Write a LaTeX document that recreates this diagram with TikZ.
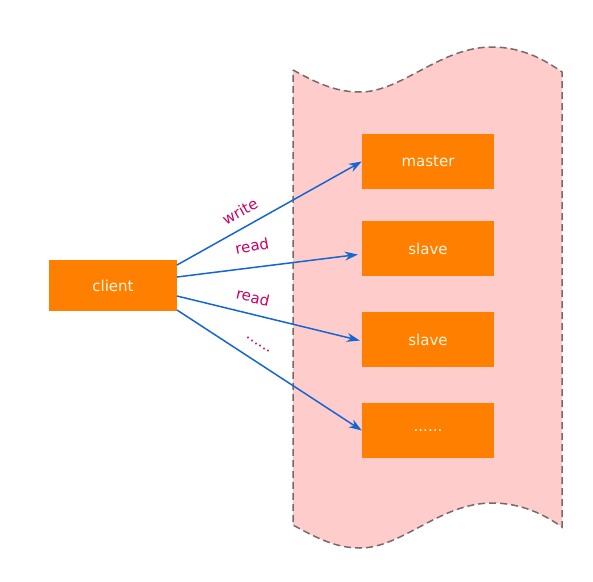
\documentclass[tikz,border=0pt]{standalone}
\usepackage{fontspec}
\setmainfont{DejaVu Sans}
\usetikzlibrary{arrows.meta}
\definecolor{boxorange}{HTML}{FF8000}
\definecolor{pinkfill}{HTML}{FFCCCC}
\definecolor{edgegray}{HTML}{7A6868}
\definecolor{arrowblue}{HTML}{1466D2}
\definecolor{labelred}{HTML}{CC0066}
\definecolor{boxtext}{HTML}{FFF5E0}
\tikzset{
  obox/.style={fill=boxorange, draw=none, minimum width=132pt, minimum height=55pt, inner sep=0pt, text=boxtext, font=\fontsize{15}{18}\selectfont},
  conn/.style={draw=arrowblue, line width=1.5pt, -{Stealth[length=13pt,width=9pt]}},
  lbl/.style={text=labelred, font=\fontsize{15}{18}\selectfont, inner sep=0pt}
}
\begin{document}
\begin{tikzpicture}[x=1pt,y=-1pt]
\useasboundingbox (0,0) rectangle (593,581);
% wavy cut-away region
\path[fill=pinkfill, draw=edgegray, line width=1.5pt, dash pattern=on 7pt off 4pt]
  (293,70) .. controls (320,85) and (338,92) .. (360,92)
  .. controls (402,92) and (440,47) .. (492,47)
  .. controls (522,47) and (545,60) .. (562,72)
  -- (562,527)
  .. controls (545,515) and (522,503) .. (492,503)
  .. controls (440,503) and (402,548) .. (360,548)
  .. controls (338,548) and (320,540) .. (293,525) -- cycle;
% nodes
\node[obox, minimum width=128pt, minimum height=51pt] (client) at (113,285.5) {client};
\node[obox] (master) at (428,161.5) {master};
\node[obox] (slave1) at (428,248.5) {slave};
\node[obox] (slave2) at (428,339.5) {slave};
\node[obox] (more) at (428,430.5) {......};
% connector start points on client
\coordinate (c1) at (177,265);
\coordinate (c2) at (177,277);
\coordinate (c3) at (177,296);
\coordinate (c4) at (177,310);
\coordinate (e2) at ([xshift=-4pt,yshift=-6pt]slave1.west);
\coordinate (e3) at ([xshift=-2pt,yshift=-1pt]slave2.west);
\draw[conn] (c1) -- (master.west);
\draw[conn] (c2) -- (e2);
\draw[conn] (c3) -- (e3);
\draw[conn] (c4) -- (more.west);
% labels
\node[lbl, rotate=29] (lw) at (240,211) {write};
\node[lbl, rotate=11] (lr1) at (252,246) {read};
\node[lbl, rotate=-13] (lr2) at (253,297) {read};
\node[lbl, rotate=-33] (ld) at (258,345) {......};
\end{tikzpicture}
\end{document}
